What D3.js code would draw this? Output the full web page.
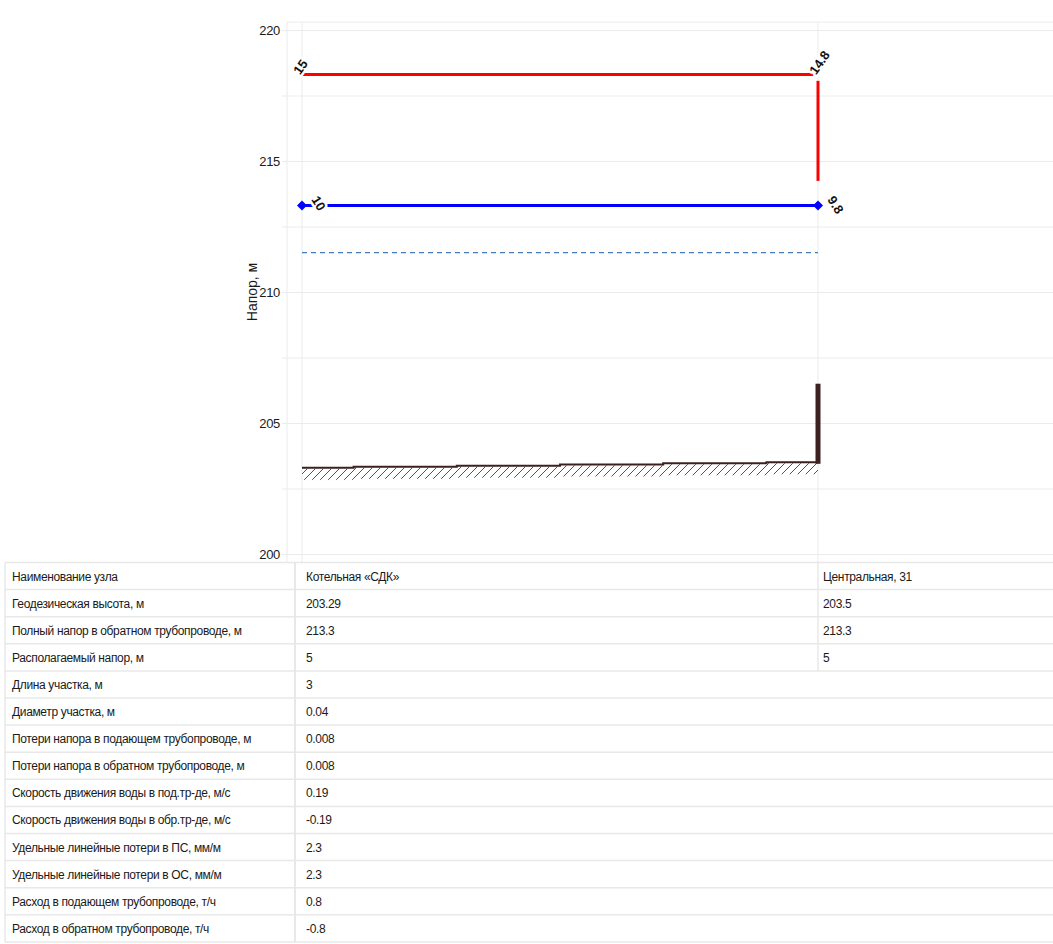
<!DOCTYPE html>
<html>
<head>
<meta charset="utf-8">
<script src="https://cdn.jsdelivr.net/npm/d3@7"></script>
<style>
body { margin: 0; background: #fff; }
text { font-family: "Liberation Sans", Arial, sans-serif; }
</style>
</head>
<body>
<script>
'use strict';

// nodes
var nodeNames = ["Котельная «СДК»", "Центральная, 31"];
var nodeDist = [0, 3];

// heads, m
var supplyHead = [218.3, 218.3];
var supplyLabels = ["15", "14.8"];
var returnHead = [213.3, 213.3];
var returnLabels = ["10", "9.8"];
var staticHead = [211.5, 211.5];
var consumerDrop = [218.06, 214.24];

// ground profile
var groundDist = [0, 0.6, 1.2, 1.8, 2.4, 3];
var groundElev = [203.29, 203.33, 203.37, 203.42, 203.46, 203.5];
var buildingTop = 206.5;

var yTicks = [200, 202.5, 205, 207.5, 210, 212.5, 215, 217.5, 220];

// table
var rowLabels = [
    "Наименование узла",
    "Геодезическая высота, м",
    "Полный напор в обратном трубопроводе, м",
    "Располагаемый напор, м",
    "Длина участка, м",
    "Диаметр участка, м",
    "Потери напора в подающем трубопроводе, м",
    "Потери напора в обратном трубопроводе, м",
    "Скорость движения воды в под.тр-де, м/с",
    "Скорость движения воды в обр.тр-де, м/с",
    "Удельные линейные потери в ПС, мм/м",
    "Удельные линейные потери в ОС, мм/м",
    "Расход в подающем трубопроводе, т/ч",
    "Расход в обратном трубопроводе, т/ч"
];
var firstNodeCol = ["Котельная «СДК»", "203.29", "213.3", "5", "3", "0.04", "0.008", "0.008",
    "0.19", "-0.19", "2.3", "2.3", "0.8", "-0.8"];
var secondNodeCol = ["Центральная, 31", "203.5", "213.3", "5"];

var width = 1053;
var height = 944;

var svg = d3.select("body").append("svg")
    .attr("width", width)
    .attr("height", height);

var x = d3.scaleLinear()
    .domain([0, 3])
    .range([302, 818]);

var y = d3.scaleLinear()
    .domain([200, 220])
    .range([554, 30]);

var axisX = 287;
var plotTop = y(220.3);
var tableTop = 562.5;

var gridColor = "#ebebeb";

// hatch pattern for ground
var defs = svg.append("defs");
var pat = defs.append("pattern")
    .attr("id", "hatch")
    .attr("patternUnits", "userSpaceOnUse")
    .attr("width", 8)
    .attr("height", 8);
pat.append("path")
    .attr("d", "M0,8 L8,0 M-2,2 L2,-2 M6,10 L10,6")
    .attr("stroke", "#3d2020")
    .attr("stroke-width", 0.8);

// grid
var gridAxis = d3.axisLeft(y)
    .tickValues(yTicks)
    .tickSize(-(width - axisX))
    .tickFormat("");
var gridGroup = svg.append("g")
    .attr("transform", "translate(" + axisX + ",0)")
    .call(gridAxis);
gridGroup.select(".domain").remove();
gridGroup.selectAll("line").attr("stroke", gridColor);

svg.append("line")
    .attr("x1", axisX).attr("x2", width)
    .attr("y1", plotTop).attr("y2", plotTop)
    .attr("stroke", gridColor);

svg.append("line")
    .attr("x1", axisX).attr("x2", axisX)
    .attr("y1", plotTop).attr("y2", tableTop)
    .attr("stroke", gridColor);

svg.selectAll(".vgrid")
    .data(nodeDist)
    .enter().append("line")
    .attr("class", "vgrid")
    .attr("x1", d => x(d)).attr("x2", d => x(d))
    .attr("y1", plotTop).attr("y2", tableTop)
    .attr("stroke", gridColor);

// y axis labels
var yAxis = d3.axisLeft(y)
    .tickValues(yTicks)
    .tickSize(5)
    .tickPadding(2)
    .tickFormat(d => d % 5 === 0 ? d : "");
var yAxisGroup = svg.append("g")
    .attr("transform", "translate(" + axisX + ",0)")
    .call(yAxis);
yAxisGroup.select(".domain").remove();
yAxisGroup.selectAll("line").attr("stroke", gridColor);
yAxisGroup.selectAll("text")
    .attr("font-size", 13)
    .attr("font-family", "'Liberation Sans', Arial, sans-serif")
    .attr("letter-spacing", -0.3)
    .attr("fill", "#1a1a1a");

svg.append("text")
    .attr("transform", "translate(257,292) rotate(-90)")
    .attr("text-anchor", "middle")
    .attr("font-size", 14)
    .attr("fill", "#1a1a1a")
    .text("Напор, м");

// ground
var groundPts = groundDist.map((d, i) => [d, groundElev[i]]);

var hatchArea = d3.area()
    .curve(d3.curveStep)
    .x(d => x(d[0]))
    .y0(d => y(d[1]) + 1)
    .y1(d => y(d[1]) + 12);

svg.append("path")
    .datum(groundPts)
    .attr("fill", "url(#hatch)")
    .attr("d", hatchArea);

var groundLine = d3.line()
    .curve(d3.curveStep)
    .x(d => x(d[0]))
    .y(d => y(d[1]));

svg.append("path")
    .datum(groundPts)
    .attr("fill", "none")
    .attr("stroke", "#3d2020")
    .attr("stroke-width", 2)
    .attr("d", groundLine);

// building
svg.append("line")
    .attr("x1", x(nodeDist[1])).attr("x2", x(nodeDist[1]))
    .attr("y1", y(groundElev[groundElev.length - 1]) + 1.5)
    .attr("y2", y(buildingTop))
    .attr("stroke", "#3d2020")
    .attr("stroke-width", 5);

// static head
var headLine = d3.line()
    .x((d, i) => x(nodeDist[i]))
    .y(d => y(d));

svg.append("path")
    .datum(staticHead)
    .attr("fill", "none")
    .attr("stroke", "#1a5aa8")
    .attr("stroke-width", 1)
    .attr("stroke-dasharray", "5,4")
    .attr("d", headLine);

// supply
svg.append("path")
    .datum(supplyHead)
    .attr("fill", "none")
    .attr("stroke", "#ff0000")
    .attr("stroke-width", 3)
    .attr("d", headLine);

svg.append("line")
    .attr("x1", x(nodeDist[1])).attr("x2", x(nodeDist[1]))
    .attr("y1", y(consumerDrop[0])).attr("y2", y(consumerDrop[1]))
    .attr("stroke", "#ff0000")
    .attr("stroke-width", 3);

// return
svg.append("path")
    .datum(returnHead)
    .attr("fill", "none")
    .attr("stroke", "#0000ff")
    .attr("stroke-width", 3)
    .attr("d", headLine);

var diamond = d3.symbol().type(d3.symbolSquare).size(50);
svg.selectAll(".rmark")
    .data(returnHead)
    .enter().append("path")
    .attr("class", "rmark")
    .attr("transform", (d, i) => "translate(" + x(nodeDist[i]) + "," + y(d) + ") rotate(45)")
    .attr("fill", "#0000ff")
    .attr("d", diamond);

// head labels
function haloText(sel) {
    sel.attr("font-size", 13)
        .attr("font-weight", "bold")
        .attr("fill", "#111")
        .attr("stroke", "#fff")
        .attr("stroke-width", 5)
        .attr("stroke-linejoin", "round")
        .attr("paint-order", "stroke");
}

svg.selectAll(".slabel")
    .data(supplyHead)
    .enter().append("text")
    .attr("class", "slabel")
    .attr("transform", (d, i) => "translate(" + (x(nodeDist[i]) - 2) + "," + (y(d) + 1) + ") rotate(-55)")
    .text((d, i) => supplyLabels[i])
    .call(haloText);

svg.selectAll(".rlabel")
    .data(returnHead)
    .enter().append("text")
    .attr("class", "rlabel")
    .attr("transform", (d, i) => "translate(" + (x(nodeDist[i]) + 9) + "," + (y(d) - 6) + ") rotate(58)")
    .text((d, i) => returnLabels[i])
    .call(haloText);

// table
var rowBand = d3.scaleBand()
    .domain(d3.range(rowLabels.length))
    .range([tableTop, tableTop + rowLabels.length * 27.1]);

var tableColor = "#e8e8e8";
var tableGroup = svg.append("g");

tableGroup.selectAll(".rowline")
    .data(d3.range(rowLabels.length + 1))
    .enter().append("line")
    .attr("class", "rowline")
    .attr("x1", 5).attr("x2", width)
    .attr("y1", d => tableTop + d * rowBand.bandwidth())
    .attr("y2", d => tableTop + d * rowBand.bandwidth())
    .attr("stroke", tableColor)
    .attr("stroke-width", 1.5);

tableGroup.append("line")
    .attr("x1", 5).attr("x2", 5)
    .attr("y1", tableTop).attr("y2", rowBand.range()[1])
    .attr("stroke", tableColor)
    .attr("stroke-width", 1.5);

tableGroup.append("line")
    .attr("x1", 295).attr("x2", 295)
    .attr("y1", tableTop).attr("y2", rowBand.range()[1])
    .attr("stroke", tableColor)
    .attr("stroke-width", 2);

tableGroup.append("line")
    .attr("x1", x(nodeDist[1])).attr("x2", x(nodeDist[1]))
    .attr("y1", tableTop).attr("y2", tableTop + secondNodeCol.length * rowBand.bandwidth())
    .attr("stroke", tableColor)
    .attr("stroke-width", 1.5);

function cellText(sel, xPos) {
    sel.attr("x", xPos)
        .attr("y", (d, i) => rowBand(i) + rowBand.bandwidth() / 2 + 4.5)
        .attr("font-size", 12)
        .attr("letter-spacing", -0.35)
        .attr("fill", "#1a1a1a")
        .text(d => d);
}

tableGroup.selectAll(".c0")
    .data(rowLabels)
    .enter().append("text")
    .attr("class", "c0")
    .call(cellText, 12);

tableGroup.selectAll(".c1")
    .data(firstNodeCol)
    .enter().append("text")
    .attr("class", "c1")
    .call(cellText, 306);

tableGroup.selectAll(".c2")
    .data(secondNodeCol)
    .enter().append("text")
    .attr("class", "c2")
    .call(cellText, 823);
</script>
</body>
</html>
